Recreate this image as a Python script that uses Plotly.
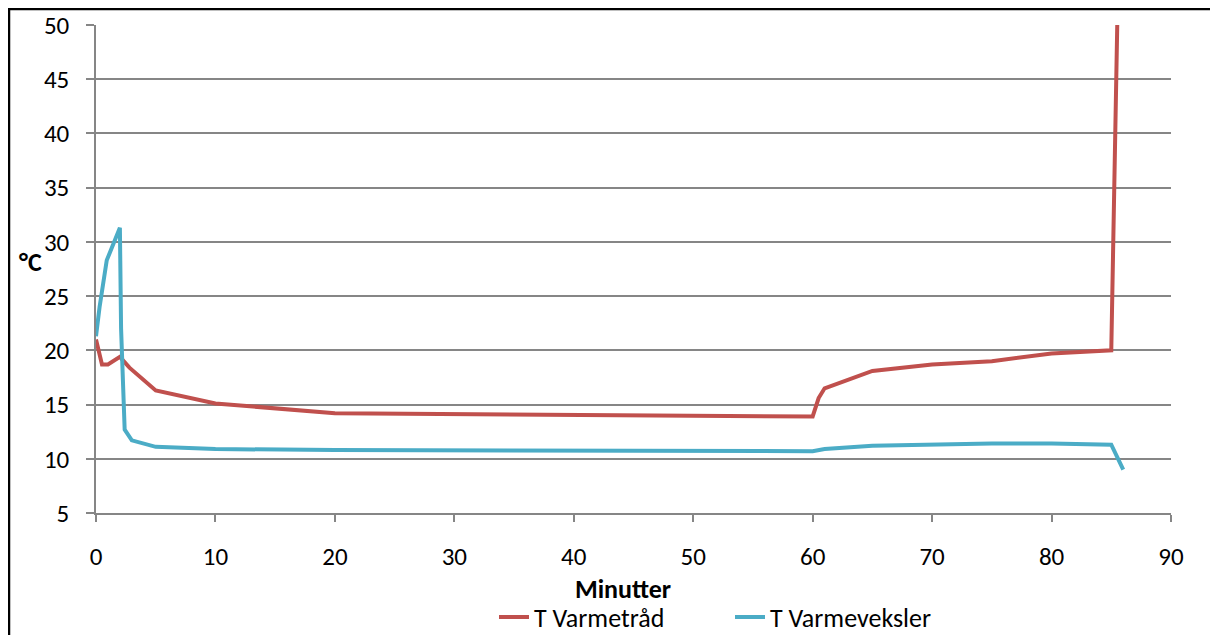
import plotly.graph_objects as go

# Data
minutes_red = [0, 0.5, 1, 2, 2.8, 5, 10, 20, 60, 60.5, 61, 65, 70, 75, 80, 85, 85.5]
t_varmetraad = [21.0, 18.7, 18.7, 19.4, 18.4, 16.3, 15.1, 14.2, 13.9, 15.6, 16.5, 18.1, 18.7, 19.0, 19.7, 20.0, 50.0]

minutes_blue = [0, 0.3, 0.9, 2.0, 2.1, 2.4, 3.0, 5, 10, 20, 60, 61, 65, 70, 75, 80, 85, 86]
t_varmeveksler = [21.3, 24.0, 28.3, 31.3, 22.0, 12.7, 11.7, 11.1, 10.9, 10.8, 10.7, 10.9, 11.2, 11.3, 11.4, 11.4, 11.3, 9.0]

series_names = ["T Varmetråd", "T Varmeveksler"]
series_colors = ["#C0504D", "#4BACC6"]

x_ticks = list(range(0, 91, 10))
y_ticks = list(range(5, 51, 5))

FONT = "Carlito, Lato, 'Liberation Sans', sans-serif"
TICK_FS = 25
TITLE_FS = 26
LEG_FS = 26

fig = go.Figure()
fig.add_trace(go.Scatter(x=minutes_red, y=t_varmetraad, mode="lines", name=series_names[0],
                         line=dict(color=series_colors[0], width=4), legend="legend"))
fig.add_trace(go.Scatter(x=minutes_blue, y=t_varmeveksler, mode="lines", name=series_names[1],
                         line=dict(color=series_colors[1], width=4), legend="legend2"))

# page has an 8px body margin, so figure coordinates = page coordinates - 8
W, H = 1210, 627
L, R, T, B = 88, 47, 17, 122
pw, ph = W - L - R, H - T - B

def px_x(p):
    return (p - L) / pw

def px_y(p):
    return (H - B - p) / ph

# legends positioned in container coordinates so they do not push the plot margins
leg_common = dict(orientation="h", yanchor="middle", xanchor="left",
                  xref="container", yref="container",
                  font=dict(size=LEG_FS, family=FONT, color="black"),
                  bgcolor="rgba(0,0,0,0)", borderwidth=0)

fig.update_layout(
    width=W, height=H, autosize=False,
    margin=dict(l=L, r=R, t=T, b=B, pad=0),
    paper_bgcolor="white", plot_bgcolor="white",
    font=dict(family=FONT, size=TICK_FS, color="black"),
    showlegend=True,
    legend=dict(x=486 / W, y=(H - 609) / H, **leg_common),
    legend2=dict(x=722 / W, y=(H - 609) / H, **leg_common),
)

fig.update_xaxes(range=[0, 90], tickvals=x_ticks, ticktext=[str(v) for v in x_ticks],
                 showgrid=False, showline=True, linecolor="#868686", linewidth=1.5,
                 ticks="outside", ticklen=7, tickcolor="#868686", tickwidth=1.5,
                 zeroline=False, ticklabelstandoff=13, automargin=False)
fig.update_yaxes(range=[5, 50], tickvals=y_ticks, ticktext=[str(v) for v in y_ticks],
                 showgrid=True, gridcolor="#868686", gridwidth=1.5,
                 showline=True, linecolor="#868686", linewidth=1.5,
                 ticks="outside", ticklen=8, tickcolor="#868686", tickwidth=1.5,
                 zeroline=False, ticklabelstandoff=12, automargin=False)

fig.add_annotation(text="<b>°C</b>", xref="paper", yref="paper", x=px_x(22), y=px_y(254),
                   xanchor="center", yanchor="middle",
                   showarrow=False, font=dict(size=TITLE_FS, family=FONT, color="black"))
fig.add_annotation(text="<b>Minutter</b>", xref="paper", yref="paper", x=px_x(615), y=px_y(581),
                   xanchor="center", yanchor="middle",
                   showarrow=False, font=dict(size=TITLE_FS, family=FONT, color="black"))

# outer chart frame (partially clipped on right and bottom as in the reference)
fig.add_shape(type="rect", xref="paper", yref="paper",
              x0=px_x(1), x1=px_x(1240), y0=px_y(660), y1=px_y(1),
              line=dict(color="black", width=2.5), fillcolor="rgba(0,0,0,0)", layer="below")

fig.write_html("out.html")
